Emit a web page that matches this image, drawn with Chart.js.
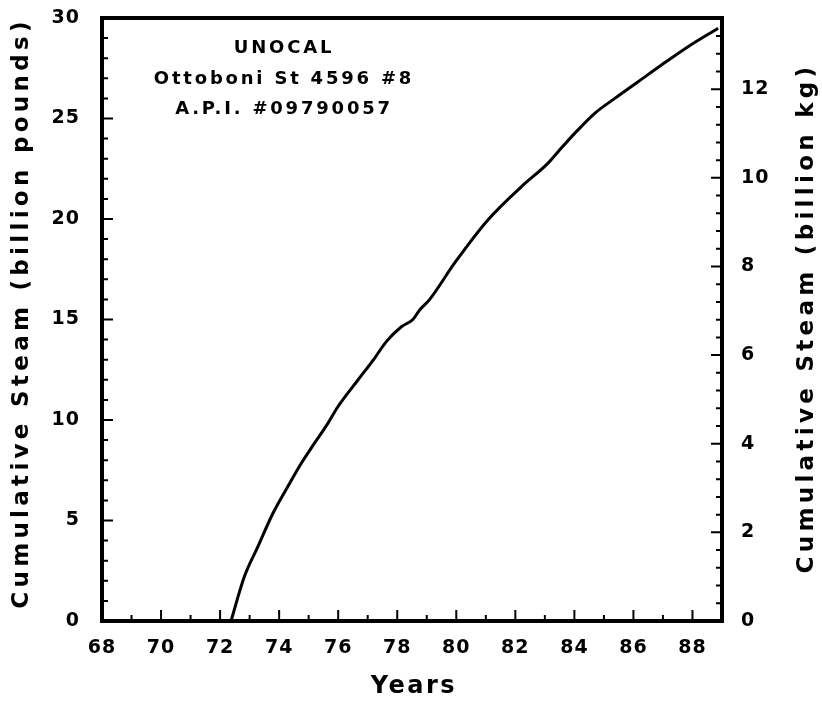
<!DOCTYPE html>
<html>
<head>
<meta charset="utf-8">
<title>Cumulative Steam</title>
<script src="https://cdn.jsdelivr.net/npm/chart.js@4.4.0/dist/chart.umd.min.js"></script>
<style>
  html, body { margin: 0; padding: 0; background: #fff; overflow: hidden; }
  canvas { display: block; }
</style>
</head>
<body>
<canvas id="steamChart" width="822" height="704"></canvas>
<script>
// years (19xx)
const years = [72.37, 72.82, 73.28, 73.79, 74.29, 74.75, 75.08, 75.65, 75.99, 76.67, 77.23, 77.63,
    78.14, 78.53, 78.76, 79.10, 79.94, 81.07, 82.20, 83.10, 83.45, 84.01, 84.69, 85.37,
    86.16, 86.95, 87.85, 88.87];
// cumulative steam, billion pounds
const steamLbs = [0, 2.2, 3.7, 5.36, 6.68, 7.85, 8.59, 9.83, 10.66, 11.99, 13.07, 13.9,
    14.64, 15.0, 15.47, 16.0, 17.8, 19.95, 21.6, 22.77, 23.35, 24.26, 25.26, 26.0,
    26.83, 27.66, 28.57, 29.49];

const yearTicks = [68, 70, 72, 74, 76, 78, 80, 82, 84, 86, 88];
const lbsTicks = [0, 5, 10, 15, 20, 25, 30];
const kgTicks = [0, 2, 4, 6, 8, 10, 12];
const noteLines = ['UNOCAL', 'Ottoboni St 4596 #8', 'A.P.I. #09790057'];

const LB_TO_KG = 0.45359237;
const FONT = '"DejaVu Sans", sans-serif';

const points = years.map((yr, i) => ({ x: yr, y: steamLbs[i] }));

// fixed axis boxes so the plot frame sits where it does on the paper
const fixBox = (w, h) => s => {
    if (w) s.width = w;
    if (h) s.height = h;
    s.paddingTop = 0; s.paddingBottom = 0;
    s.paddingLeft = 0; s.paddingRight = 0;
};

// frame, inward ticks, titles and the well note
const paperPlugin = {
    id: 'paper',
    beforeDraw(chart) {
        chart.ctx.letterSpacing = '1px';
    },
    afterDraw(chart) {
        const ctx = chart.ctx;
        const a = chart.chartArea;
        const sx = chart.scales.x, sy = chart.scales.y, sk = chart.scales.y2;
        ctx.save();
        ctx.strokeStyle = '#000';
        ctx.lineCap = 'butt';

        // inward tick marks
        ctx.lineWidth = 2;
        ctx.beginPath();
        for (let yr = 68; yr <= 89; yr++) {
            const px = sx.getPixelForValue(yr);
            const len = yr % 2 === 0 ? 11 : 6;
            ctx.moveTo(px, a.bottom); ctx.lineTo(px, a.bottom - len);
        }
        for (let v = 0; v <= 30; v++) {
            const py = sy.getPixelForValue(v);
            const len = v % 5 === 0 ? 11 : 6;
            ctx.moveTo(a.left, py); ctx.lineTo(a.left + len, py);
        }
        for (let i = 0; i * 0.4 <= sk.max + 1e-9; i++) {
            const py = sk.getPixelForValue(i * 0.4);
            const len = i % 5 === 0 ? 11 : 6;
            ctx.moveTo(a.right, py); ctx.lineTo(a.right - len, py);
        }
        ctx.stroke();

        // frame
        ctx.lineWidth = 4;
        ctx.strokeRect(a.left, a.top, a.right - a.left, a.bottom - a.top);

        ctx.fillStyle = '#000';
        // x title
        ctx.letterSpacing = '2.5px';
        ctx.font = 'bold 24px ' + FONT;
        ctx.textAlign = 'center';
        ctx.textBaseline = 'alphabetic';
        ctx.fillText('Years', (a.left + a.right) / 2 + 2, 693);

        // y titles, reading bottom to top
        ctx.letterSpacing = '4.3px';
        ctx.font = 'bold 23px ' + FONT;
        ctx.save();
        ctx.translate(28, 313);
        ctx.rotate(-Math.PI / 2);
        ctx.fillText('Cumulative Steam (billion pounds)', 0, 0);
        ctx.restore();
        ctx.save();
        ctx.translate(813, 318);
        ctx.rotate(-Math.PI / 2);
        ctx.fillText('Cumulative Steam (billion kg)', 0, 0);
        ctx.restore();

        // note
        ctx.letterSpacing = '2.8px';
        ctx.font = 'bold 18px ' + FONT;
        noteLines.forEach((t, i) => ctx.fillText(t, 284, 53 + i * 30.5));

        ctx.restore();
        ctx.letterSpacing = '0px';
    }
};

const tickFont = { family: FONT, size: 19, weight: 'bold' };

new Chart(document.getElementById('steamChart'), {
    type: 'line',
    data: {
        datasets: [{
            label: 'Cumulative Steam',
            data: points,
            borderColor: '#000',
            borderWidth: 3,
            pointRadius: 0,
            fill: false,
            cubicInterpolationMode: 'monotone'
        }]
    },
    options: {
        responsive: false,
        animation: false,
        devicePixelRatio: 1,
        layout: { padding: { top: 18, left: 0, right: 0, bottom: 0 } },
        plugins: { legend: { display: false }, tooltip: { enabled: false } },
        scales: {
            x: {
                type: 'linear',
                position: 'bottom',
                min: 68,
                max: 89,
                grid: { display: false },
                border: { display: false },
                afterBuildTicks: s => { s.ticks = yearTicks.map(v => ({ value: v })); },
                afterFit: fixBox(0, 83),
                ticks: { color: '#000', font: tickFont, padding: 8, maxRotation: 0, autoSkip: false }
            },
            y: {
                type: 'linear',
                position: 'left',
                min: 0,
                max: 30,
                grid: { display: false },
                border: { display: false },
                afterBuildTicks: s => { s.ticks = lbsTicks.map(v => ({ value: v })); },
                afterFit: fixBox(102, 0),
                ticks: { color: '#000', font: tickFont, padding: 14, autoSkip: false }
            },
            y2: {
                type: 'linear',
                position: 'right',
                min: 0,
                max: 30 * LB_TO_KG,
                grid: { display: false },
                border: { display: false },
                afterBuildTicks: s => { s.ticks = kgTicks.map(v => ({ value: v })); },
                afterFit: fixBox(100, 0),
                ticks: { color: '#000', font: tickFont, padding: 11, autoSkip: false }
            }
        }
    },
    plugins: [paperPlugin]
});
</script>
</body>
</html>
